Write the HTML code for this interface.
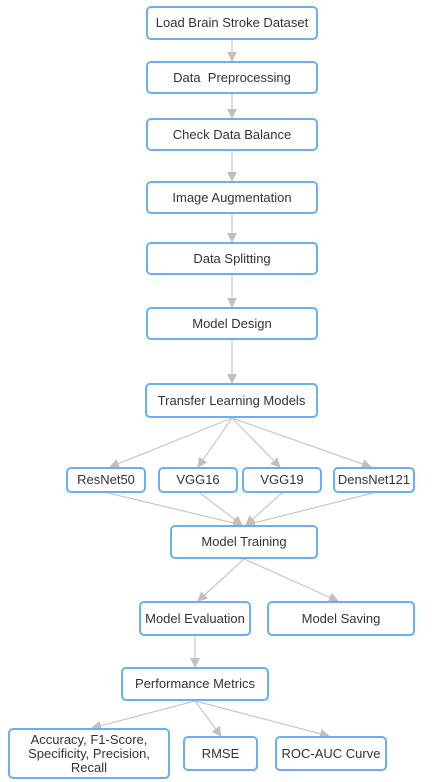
<!DOCTYPE html>
<html><head><style>
html,body{margin:0;padding:0;background:#fff;width:445px;height:782px;overflow:hidden}
.b{position:absolute;box-sizing:border-box;border:2px solid #6ab0f0;border-radius:5px;background:#fff;display:flex;align-items:center;justify-content:center;text-align:center;font-family:"Liberation Sans",Arial,sans-serif;font-size:13px;color:#333;line-height:14px}
svg{position:absolute;left:0;top:0}
</style></head><body>
<svg width="445" height="782">
<defs><marker id="a" markerWidth="10" markerHeight="10" refX="9" refY="5" orient="auto" markerUnits="userSpaceOnUse"><path d="M0,0 L10,5 L0,10 z" fill="#c0c0c0"/></marker></defs>
<g stroke="#c8c8c8" stroke-width="1.2" fill="none" marker-end="url(#a)">
<line x1="232" y1="40" x2="232" y2="61"/>
<line x1="232" y1="94" x2="232" y2="118"/>
<line x1="232" y1="151" x2="232" y2="181"/>
<line x1="232" y1="214" x2="232" y2="242"/>
<line x1="232" y1="275" x2="232" y2="307"/>
<line x1="232" y1="340" x2="232" y2="383"/>
<line x1="232" y1="418" x2="110" y2="467"/>
<line x1="232" y1="418" x2="198" y2="467"/>
<line x1="232" y1="418" x2="280" y2="467"/>
<line x1="232" y1="418" x2="371" y2="467"/>
<line x1="108" y1="493" x2="242" y2="525"/>
<line x1="200" y1="493" x2="242" y2="525"/>
<line x1="282" y1="493" x2="246" y2="525"/>
<line x1="373" y1="493" x2="246" y2="525"/>
<line x1="244" y1="559" x2="198" y2="601"/>
<line x1="244" y1="559" x2="338" y2="601"/>
<line x1="195" y1="636" x2="195" y2="667"/>
<line x1="195" y1="701" x2="92" y2="728"/>
<line x1="195" y1="701" x2="221" y2="736"/>
<line x1="195" y1="701" x2="329" y2="736"/>
</g></svg>
<div class="b" style="left:146px;top:6px;width:172px;height:34px">Load Brain Stroke Dataset</div>
<div class="b" style="left:146px;top:61px;width:172px;height:33px">Data&nbsp; Preprocessing</div>
<div class="b" style="left:146px;top:118px;width:172px;height:33px">Check Data Balance</div>
<div class="b" style="left:146px;top:181px;width:172px;height:33px">Image Augmentation</div>
<div class="b" style="left:146px;top:242px;width:172px;height:33px">Data Splitting</div>
<div class="b" style="left:146px;top:307px;width:172px;height:33px">Model Design</div>
<div class="b" style="left:145px;top:383px;width:173px;height:35px">Transfer Learning Models</div>
<div class="b" style="left:66px;top:467px;width:80px;height:26px">ResNet50</div>
<div class="b" style="left:158px;top:467px;width:80px;height:26px">VGG16</div>
<div class="b" style="left:242px;top:467px;width:80px;height:26px">VGG19</div>
<div class="b" style="left:333px;top:467px;width:82px;height:26px">DensNet121</div>
<div class="b" style="left:170px;top:525px;width:148px;height:34px">Model Training</div>
<div class="b" style="left:139px;top:601px;width:112px;height:35px">Model Evaluation</div>
<div class="b" style="left:267px;top:601px;width:148px;height:35px">Model Saving</div>
<div class="b" style="left:121px;top:667px;width:148px;height:34px">Performance Metrics</div>
<div class="b" style="left:8px;top:728px;width:162px;height:51px">Accuracy, F1-Score,<br>Specificity, Precision,<br>Recall</div>
<div class="b" style="left:183px;top:736px;width:75px;height:35px">RMSE</div>
<div class="b" style="left:275px;top:736px;width:112px;height:35px">ROC-AUC Curve</div>
</body></html>
